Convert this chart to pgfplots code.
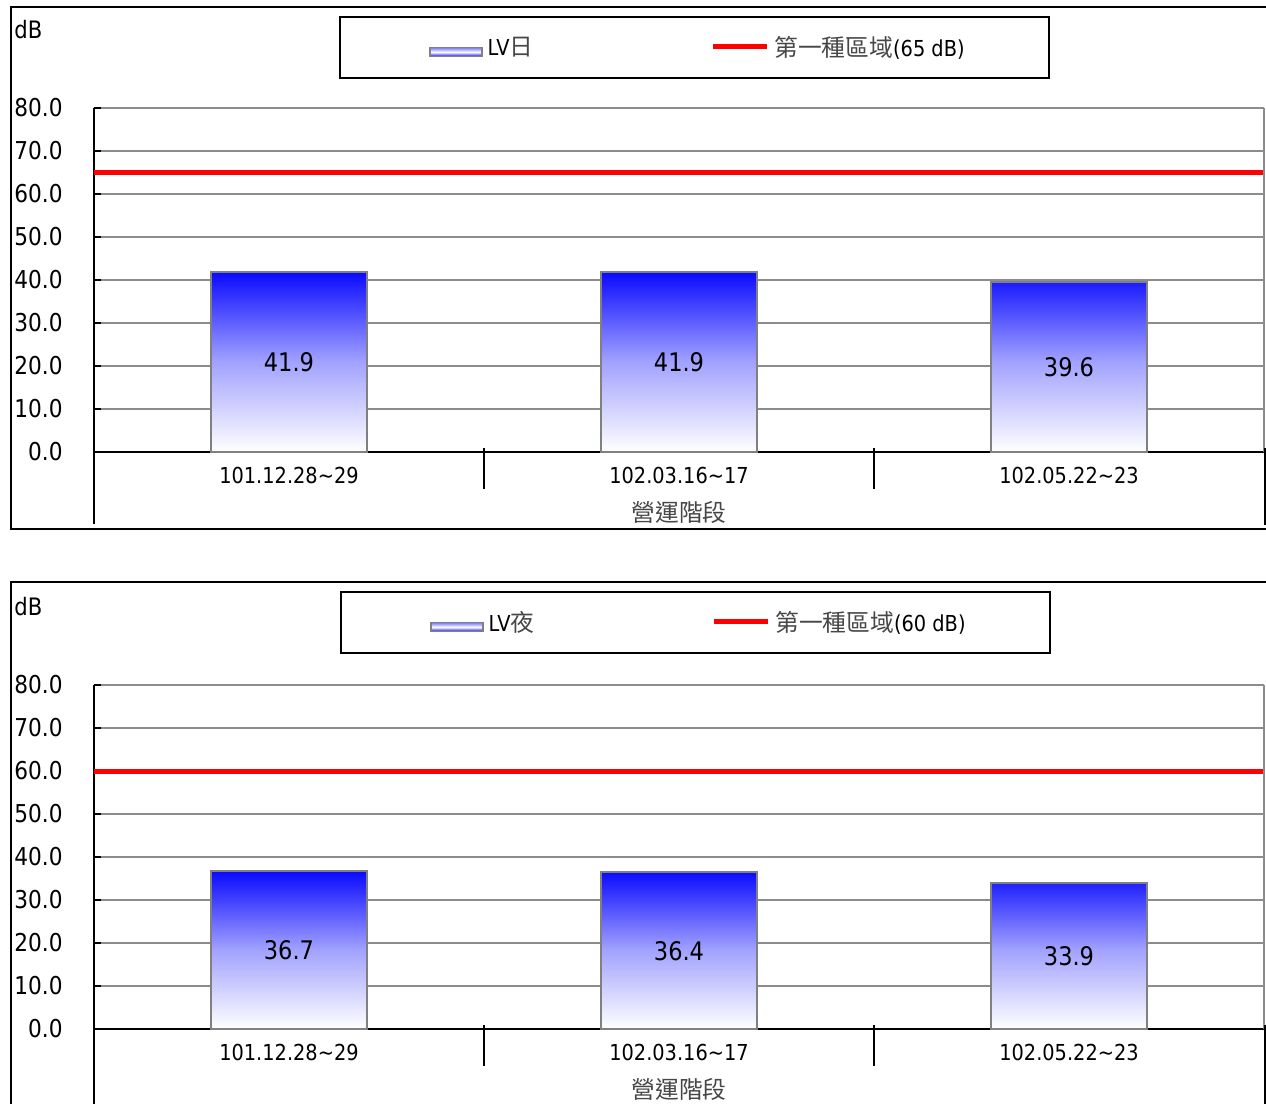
\documentclass[border=0pt]{standalone}
\usepackage{fontspec}
\setmainfont{DejaVu Sans}[FakeStretch=0.88]
\newfontfamily\cjkraw{Noto Sans CJK TC}[Scale=1.08]
\newcommand\cjk[1]{{\cjkraw\color{black!72}#1}}
\usepackage{pgfplots}
\pgfplotsset{compat=1.18}

\definecolor{gridgray}{RGB}{140,140,140}
\definecolor{barblue}{RGB}{10,10,255}
\definecolor{linered}{RGB}{255,0,0}

\newcommand\fa{\fontsize{12.3bp}{14bp}\selectfont}
\newcommand\fc{\fontsize{12.8bp}{14bp}\selectfont}
\newcommand\fb{\fontsize{11bp}{13bp}\selectfont}

\pgfplotsset{
  mychart/.style={
    scale only axis, width=585bp, height=172bp,
    anchor=south west, clip=false,
    xmin=-0.5, xmax=2.5, ymin=0, ymax=80,
    axis lines*=left,
    axis line style={-, black, line width=1bp},
    ytick={0,10,...,80},
    yticklabels={0.0,10.0,20.0,30.0,40.0,50.0,60.0,70.0,80.0},
    ymajorgrids,
    major grid style={gridgray, line width=1bp},
    ytick align=inside,
    major tick length=3.5bp,
    tick style={black, line width=1bp},
    major x tick style={draw=none},
    xtick={0,1,2},
    xticklabels={101.12.28\textasciitilde29, 102.03.16\textasciitilde17, 102.05.22\textasciitilde23},
    yticklabel style={anchor=east, inner sep=0pt, xshift=-15.5bp, font=\fa},
    xticklabel style={anchor=center, inner sep=0pt, yshift=-11.5bp, font=\fb},
    every axis y label/.style={at={(axis description cs:0,1)}, anchor=west, inner sep=0pt, xshift=-40bp, yshift=39bp, font=\fontsize{12bp}{14bp}\selectfont},
    every axis x label/.style={at={(axis description cs:0.5,0)}, anchor=center, inner sep=0pt, yshift=-30bp, font=\fb},
    ylabel={dB},
    xlabel={\cjk{營運階段}},
    legend columns=2,
    legend cell align=left,
    legend style={at={(axis description cs:0.2094,1.2674)}, anchor=north west,
      draw=black, line width=1bp, inner xsep=40bp, inner ysep=7.5bp, font=\fb,
      /tikz/every odd column/.append style={column sep=0.5bp},
      /tikz/every even column/.append style={column sep=86.5bp}},
    every node near coord/.append style={anchor=center, font=\fc, inner sep=0pt, black},
  },
  barstyle/.style={ybar, bar shift=0pt, bar width=0.4, draw=gray, line width=1bp,
    top color=barblue, bottom color=white, middle color=barblue!38,
    legend image code/.code={\path (-4.5bp,0bp); \draw[draw=gray, line width=0.75bp, top color=barblue!55, bottom color=barblue, middle color=white] (0bp,-4.5bp) rectangle (26bp,0bp);}},
  labelstyle/.style={draw=none, mark=none, forget plot, nodes near coords, point meta=explicit symbolic},
  redstyle/.style={linered, line width=2.5bp, mark=none,
    legend image code/.code={\draw[linered, line width=2.5bp] (0bp,0.5bp) -- (27bp,0.5bp);}},
}

\begin{document}
\begin{tikzpicture}
\path[use as bounding box] (0bp,0bp) rectangle (633bp,-552bp);
\clip (0bp,0bp) rectangle (633bp,-552bp);

% ---------- top chart ----------
\draw[black, line width=1bp] (5.5bp,-3.5bp) rectangle (640bp,-264.5bp);
\begin{axis}[mychart, at={(47bp,-226bp)}]
\addplot[barstyle] coordinates {(0,41.9) (1,41.9) (2,39.6)};
\addlegendentry{LV\cjk{日}}
\addplot[redstyle] coordinates {(-0.5,65) (2.5,65)};
\addlegendentry{\cjk{第一種區域}(65 dB)}
\addplot[labelstyle] coordinates {(0,20.95)[41.9] (1,20.95)[41.9] (2,19.8)[39.6]};
\draw[gridgray, line width=1bp] (axis cs:2.5,0) -- (axis cs:2.5,80);
\draw[black, line width=1bp] (axis cs:0.5,0) ++(0pt,2bp) -- ++(0pt,-20.5bp);
\draw[black, line width=1bp] (axis cs:1.5,0) ++(0pt,2bp) -- ++(0pt,-20.5bp);
\draw[black, line width=1bp] (axis cs:2.5,0) ++(0.5bp,2bp) -- ++(0pt,-38.5bp);
\draw[black, line width=1bp] (axis cs:-0.5,0) -- ++(0pt,-36bp);
\end{axis}

% ---------- bottom chart ----------
\draw[black, line width=1bp] (5.5bp,-291bp) rectangle (640bp,-600bp);
\begin{axis}[mychart, at={(47bp,-514.5bp)},
  legend style={at={(axis description cs:0.2102,1.2732)}}]
\addplot[barstyle] coordinates {(0,36.7) (1,36.4) (2,33.9)};
\addlegendentry{LV\cjk{夜}}
\addplot[redstyle] coordinates {(-0.5,60) (2.5,60)};
\addlegendentry{\cjk{第一種區域}(60 dB)}
\addplot[labelstyle] coordinates {(0,18.35)[36.7] (1,18.2)[36.4] (2,16.95)[33.9]};
\draw[gridgray, line width=1bp] (axis cs:2.5,0) -- (axis cs:2.5,80);
\draw[black, line width=1bp] (axis cs:0.5,0) ++(0pt,2bp) -- ++(0pt,-20.5bp);
\draw[black, line width=1bp] (axis cs:1.5,0) ++(0pt,2bp) -- ++(0pt,-20.5bp);
\draw[black, line width=1bp] (axis cs:2.5,0) ++(0.5bp,2bp) -- ++(0pt,-60bp);
\draw[black, line width=1bp] (axis cs:-0.5,0) -- ++(0pt,-60bp);
\end{axis}
\end{tikzpicture}
\end{document}
